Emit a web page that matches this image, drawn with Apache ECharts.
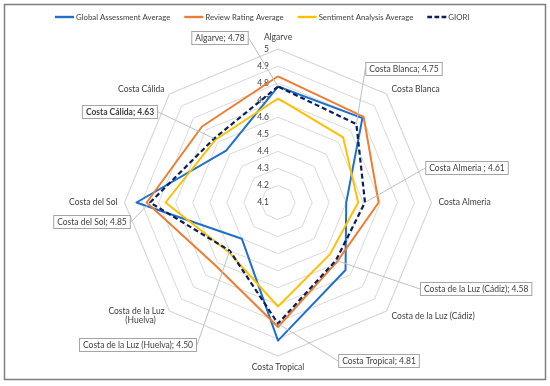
<!DOCTYPE html>
<html><head><meta charset="utf-8">
<script src="https://cdn.jsdelivr.net/npm/echarts@6/dist/echarts.min.js"></script>
<style>html,body{margin:0;padding:0;background:#fff}#c{width:550px;height:386px}</style>
</head><body><div id="c"></div>
<script>
// Data
const categories = ['Algarve','Costa Blanca','Costa Almeria','Costa de la Luz (Cádiz)','Costa Tropical','Costa de la Luz (Huelva)','Costa del Sol','Costa Cálida'];
const globalAssessment = [4.78,4.80,4.50,4.66,4.91,4.40,4.93,4.53];
const reviewRating     = [4.84,4.81,4.69,4.59,4.83,4.62,4.87,4.73];
const sentiment        = [4.71,4.64,4.57,4.53,4.71,4.51,4.76,4.62];
const giori            = [4.78,4.75,4.61,4.58,4.81,4.50,4.85,4.63];
const gioriLabelNames  = ['Algarve','Costa Blanca','Costa Almeria ','Costa de la Luz (Cádiz)','Costa Tropical','Costa de la Luz (Huelva)','Costa del Sol','Costa Cálida'];
const seriesNames = ['Global Assessment Average','Review Rating Average','Sentiment Analysis Average','GIORI'];
const axisMin = 4.1, axisMax = 5.0, axisSplits = 9;

// ECharts places indicators counter-clockwise; reorder so the chart reads clockwise
const order = [0,7,6,5,4,3,2,1];
const ro = arr => order.map(i => arr[i]);

const FONT = 'Lato';
const colors = ['#1F70CC','#ED7D31','#FFC000','#0B1F5C'];

const labelPos = {
  'Algarve': {x:220, y:38, align:'center'},
  'Costa Blanca': {x:404, y:69, align:'center'},
  'Costa Almeria': {x:467, y:168, align:'center'},
  'Costa de la Luz (Cádiz)': {x:421, y:289, align:'left'},
  'Costa Tropical': {x:379, y:361, align:'center'},
  'Costa de la Luz (Huelva)': {x:138, y:345, align:'center'},
  'Costa del Sol': {x:92, y:222, align:'center'},
  'Costa Cálida': {x:120, y:112, align:'center'}
};

const chart = echarts.init(document.getElementById('c'), null, {renderer:'canvas'});
const indicators = ro(categories).map((n, k) => {
  const o = {name: n, min: axisMin, max: axisMax};
  if (k !== 0) o.axisLabel = {show:false};
  return o;
});

const solidIcon = 'path://M0,0h20v2.5h-20z';
const dashIcon = 'path://M0,0h5v2.5h-5z M7.5,0h5v2.5h-5z M15,0h5v2.5h-5z';

const option = {
  animation: false,
  textStyle: {fontFamily: FONT},
  graphic: [{type:'rect', shape:{x:4.5,y:4.5,width:541,height:375}, style:{fill:'none', stroke:'#7F7F7F', lineWidth:1.5}, silent:true}],
  legend: {
    left: 50, top: 8, itemWidth: 19, itemHeight: 2.5, itemGap: 14, width: 490, padding: [5,5,5,5],
    textStyle: {fontFamily: FONT, fontSize: 7.8, color: '#404040', padding: [0,0,0,-3]},
    data: seriesNames.map((n,i) => ({name:n, icon: i === 3 ? dashIcon : solidIcon}))
  },
  radar: {
    center: [278, 202.5], radius: 153.5, startAngle: 90,
    shape: 'polygon', splitNumber: axisSplits,
    indicator: indicators,
    axisName: {color:'#404040', fontFamily: FONT, fontSize: 8.5,
      formatter: n => n === 'Costa de la Luz (Huelva)' ? 'Costa de la Luz\n(Huelva)    ' : n},
    nameGap: 7,
    axisLine: {show:false},
    axisTick: {show:false},
    splitArea: {show:false},
    splitLine: {lineStyle:{color:'#D9D9D9', width:1}},
    axisLabel: {show:true, color:'#404040', fontFamily: FONT, fontSize: 8.5, margin: 9, showMinLabel: true,
      formatter: v => (Math.round(v*10)/10).toString()}
  },
  series: [{
    type: 'radar',
    data: [
      {name: seriesNames[0], value: ro(globalAssessment), symbol:'none', lineStyle:{color:colors[0], width:2}, itemStyle:{color:colors[0]}},
      {name: seriesNames[1], value: ro(reviewRating), symbol:'none', lineStyle:{color:colors[1], width:2}, itemStyle:{color:colors[1]}},
      {name: seriesNames[2], value: ro(sentiment), symbol:'none', lineStyle:{color:colors[2], width:2}, itemStyle:{color:colors[2]}},
      {name: seriesNames[3], value: ro(giori), symbol:'circle', symbolSize: 0.5,
        lineStyle:{color:colors[3], width:2.2, type:[5,3]}, itemStyle:{color:colors[3]},
        label: {show:true, fontFamily: FONT, fontSize: 8.5, color:'#404040', backgroundColor:'#fff',
          borderColor:'#A6A6A6', borderWidth:1, padding:[2,3,1,3],
          formatter: p => {
            const idx = order[p.dimensionIndex];
            const t = gioriLabelNames[idx] + '; ' + giori[idx].toFixed(2);
            return idx === 7 ? '{b|' + t + '}' : t;
          },
          rich: {b: {fontWeight:'bold', fontFamily: FONT, fontSize: 8.5, color:'#404040'}}
        },
        labelLine: {show:true, lineStyle:{color:'#BFBFBF', width:1}}
      }
    ],
    labelLayout: function (p) {
      const txt = (p.text || '').replace('{b|','').replace('}','');
      const key = txt.split(';')[0].trim();
      const q = labelPos[key];
      if (!q) return {};
      return {x: q.x, y: q.y, align: q.align, verticalAlign: 'middle'};
    },
    labelLine: {show:true, lineStyle:{color:'#BFBFBF', width:1}}
  }]
};
chart.setOption(option);
</script></body></html>
